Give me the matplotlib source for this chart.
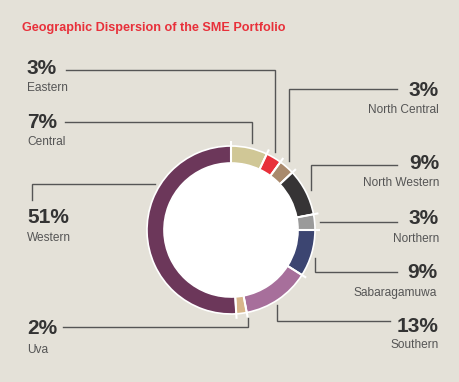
import numpy as np
import matplotlib
matplotlib.use("Agg")
import matplotlib.pyplot as plt
from matplotlib.patches import Circle

plt.rcParams['font.family'] = ['Liberation Sans', 'DejaVu Sans']

# data (clockwise from 12 o'clock)
regions = ['Central', 'Eastern', 'North Central', 'North Western', 'Northern',
           'Sabaragamuwa', 'Southern', 'Uva', 'Western']
shares = [7, 3, 3, 9, 3, 9, 13, 2, 51]
colors = ['#d0c796', '#e8303a', '#a98a6d', '#363435', '#9a9a9a',
          '#3c4571', '#a76f9b', '#d8b68a', '#6c375a']

W, H = 460, 382
BG = '#e4e1d8'

fig = plt.figure(figsize=(W / 100, H / 100), dpi=100, facecolor=BG)
ax = fig.add_axes([0, 0, 1, 1])
ax.set_facecolor(BG)
ax.set_xlim(0, W)
ax.set_ylim(0, H)
ax.axis('off')


def Y(y):
    # pixel row (from top) -> axes y
    return H - y


cx, cy, r_out, r_in = 231, Y(230), 84, 67

ax.pie(shares, colors=colors, startangle=90, counterclock=False,
       center=(cx, cy), radius=r_out, frame=True,
       wedgeprops=dict(width=r_out - r_in, edgecolor='white', linewidth=1.2))
ax.add_patch(Circle((cx, cy), r_in, facecolor='white', edgecolor='none', zorder=3))

# white separators sticking out a little
cum = np.cumsum([0] + shares)[:-1]
for c in cum:
    a = np.deg2rad(90 - c / sum(shares) * 360)
    ax.plot([cx + r_in * np.cos(a), cx + (r_out + 5) * np.cos(a)],
            [cy + r_in * np.sin(a), cy + (r_out + 5) * np.sin(a)],
            color='white', lw=1.5, zorder=4, solid_capstyle='butt')

ax.set_xlim(0, W)
ax.set_ylim(0, H)
ax.set_aspect('equal')

ax.text(22, Y(28), 'Geographic Dispersion of the SME Portfolio', color='#e8303a',
        fontsize=9.1, fontweight='bold', va='center', ha='left')

# label layout: (pct x, pct y, label y, align, leader points)
layout = {
    'Eastern':       (27, 69, 88, 'left', [(66, 70), (275, 70), (275, 152)]),
    'Central':       (27, 123, 142, 'left', [(65, 122), (252, 122), (252, 143)]),
    'Western':       (27, 218, 238, 'left', [(32, 200), (32, 184), (155, 184)]),
    'Uva':           (27, 329, 350, 'left', [(63, 327), (248, 327), (248, 318)]),
    'North Central': (439, 91, 110, 'right', [(397, 89), (289, 89), (289, 161)]),
    'North Western': (439, 164, 183, 'right', [(397, 165), (311, 165), (311, 190)]),
    'Northern':      (439, 219, 239, 'right', [(397, 222), (320, 222)]),
    'Sabaragamuwa':  (437, 273, 293, 'right', [(315, 258), (315, 272), (397, 272)]),
    'Southern':      (439, 326, 345, 'right', [(277, 305), (277, 321), (390, 321)]),
}

for name, val in zip(regions, shares):
    px, py, ly, ha, pts = layout[name]
    ax.text(px, Y(py), f'{val}%', fontsize=15, fontweight='bold', color='#333333',
            ha=ha, va='center')
    ax.text(px, Y(ly), name, fontsize=8.6, color='#555555', ha=ha, va='center')
    xs = [p[0] for p in pts]
    ys = [Y(p[1]) for p in pts]
    ax.plot(xs, ys, color='#555555', lw=1, zorder=1, solid_joinstyle='miter')

fig.savefig('out.png', dpi=100, facecolor=BG)
